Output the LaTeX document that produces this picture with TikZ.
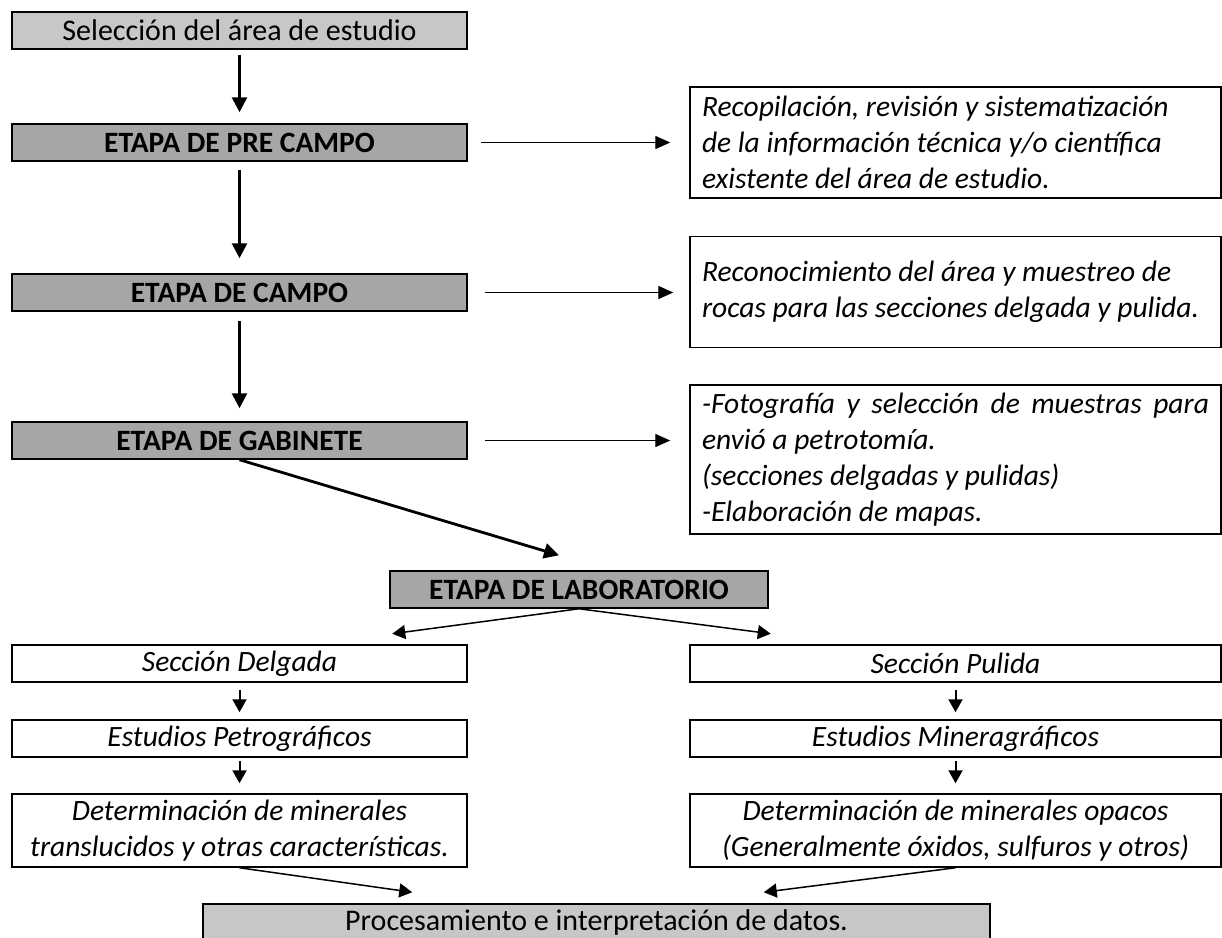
\documentclass[tikz,border=0pt]{standalone}
\usepackage{fontspec}
\setmainfont{Carlito}
\usepackage{xcolor}
\usepackage{tikz}
\usetikzlibrary{arrows.meta}
\definecolor{grisclaro}{gray}{0.78}
\definecolor{grisoscuro}{gray}{0.65}
\tikzstyle{inicio} = [draw=black, line width=1.5pt, rectangle, fill=grisclaro, minimum width=455pt, minimum height=37pt, inner sep=0pt, font=\fontsize{30}{36}\selectfont]
\tikzstyle{etapa} = [draw=black, line width=1.5pt, rectangle, fill=grisoscuro, minimum width=455pt, minimum height=37pt, inner sep=0pt, font=\fontsize{29.5}{35}\selectfont\bfseries]
\tikzstyle{nota} = [draw=black, line width=1.5pt, rectangle, minimum width=531pt, inner xsep=12pt, inner ysep=0pt, text width=507pt, align=flush left, font=\fontsize{29.5}{36}\selectfont\itshape]
\tikzstyle{seccion} = [draw=black, line width=1.5pt, rectangle, minimum width=455pt, minimum height=37pt, inner sep=0pt, align=flush center, font=\fontsize{29.5}{36.5}\selectfont\itshape]
\tikzstyle{flecha} = [-{Triangle[length=15pt,width=15pt]}, line width=2.8pt]
\tikzstyle{flechamedia} = [-{Triangle[length=15pt,width=13pt]}, line width=1.4pt]
\tikzstyle{flechita} = [-{Triangle[length=13pt,width=14pt]}, line width=2pt]

\begin{document}
\begin{tikzpicture}[x=1pt, y=-1pt]
    \path[use as bounding box, fill=white] (0,0) rectangle (1222,937);

    %etapas
    \node [inicio] (area) at (239.5,30.5) {Selección del área de estudio};
    \node [etapa] (precampo) at (239.5,142.5) {ETAPA DE PRE CAMPO};
    \node [etapa] (campo) at (239.5,292.5) {ETAPA DE CAMPO};
    \node [etapa] (gabinete) at (239.5,440.5) {ETAPA DE GABINETE};
    \node [etapa, minimum width=378pt] (laboratorio) at (579,589.5) {ETAPA DE LABORATORIO};

    %notas
    \node [nota, minimum height=111pt] (nota1) at (955.5,142.5) {Recopilación, revisión y sistematización\\de la información técnica y/o científica\\existente del área de estudio.};
    \node [nota, minimum height=111pt] (nota2) at (955.5,292) {Reconocimiento del área y muestreo de\\rocas para las secciones delgada y pulida.};
    \node [nota, minimum height=149pt, align=justify] (nota3) at (955.5,459.5) {-Fotografía y selección de muestras para\linebreak envió a petrotomía.\\(secciones delgadas y pulidas)\\-Elaboración de mapas.};

    %laboratorio
    \node [seccion] (delgada) at (239.5,663.5) {Sección Delgada};
    \node [seccion, minimum width=531pt] (pulida) at (955.5,663.5) {Sección Pulida};
    \node [seccion] (petro) at (239.5,738.5) {Estudios Petrográficos};
    \node [seccion, minimum width=531pt] (minera) at (955.5,738.5) {Estudios Mineragráficos};
    \node [seccion, minimum height=73pt] (translucidos) at (239.5,830.5) {Determinación de minerales\\translucidos y otras características.};
    \node [seccion, minimum width=531pt, minimum height=73pt] (opacos) at (955.5,830.5) {Determinación de minerales opacos\\(Generalmente óxidos, sulfuros y otros)};
    \node [inicio, minimum width=787pt] (datos) at (596.5,922.5) {Procesamiento e interpretación de datos.};

    \draw [flecha, shorten <=5pt, shorten >=11pt] (area) -- (precampo);
    \draw [flecha, shorten <=8pt, shorten >=15pt] (precampo) -- (campo);
    \draw [flecha, shorten <=9pt, shorten >=13pt] (campo) -- (gabinete);

    \draw [flechamedia, shorten <=13pt, shorten >=19pt] (precampo.east) -- (precampo.east -| nota1.west);
    \draw [flechamedia, shorten <=17pt, shorten >=16pt] (campo.east) -- (campo.east -| nota2.west);
    \draw [flechamedia, shorten <=17pt, shorten >=19pt] (gabinete.east) -- (gabinete.east -| nota3.west);

    \draw [flecha] (gabinete.south) -- ([shift={(-20pt,15pt)}]laboratorio.north);
    \draw [flechita, line width=1.5pt] (laboratorio.south) -- ([shift={(3pt,-25pt)}]laboratorio.south west);
    \draw [flechita, line width=1.5pt] (laboratorio.south) -- ([shift={(2pt,-25pt)}]laboratorio.south east);

    \draw [flechita, shorten <=7pt, shorten >=7pt] (delgada) -- (petro);
    \draw [flechita, shorten <=7pt, shorten >=7pt] (pulida) -- (minera);
    \draw [flechita, shorten <=3pt, shorten >=10pt] (petro) -- (translucidos);
    \draw [flechita, shorten <=3pt, shorten >=10pt] (minera) -- (opacos);

    \draw [flechita, line width=1.5pt] (translucidos.south) -- ([shift={(210pt,11pt)}]datos.north west);
    \draw [flechita, line width=1.5pt] (opacos.south) -- ([shift={(-227pt,11pt)}]datos.north east);
\end{tikzpicture}
\end{document}
